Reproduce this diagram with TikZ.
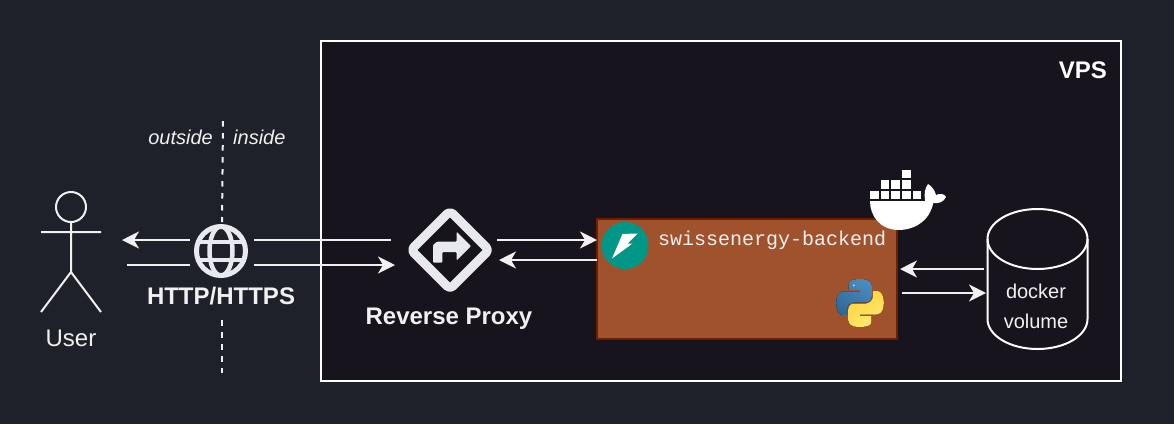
\documentclass[tikz,border=0pt]{standalone}
\usepackage{fontspec}
\setmainfont{Liberation Sans}
\setmonofont{Liberation Mono}
\usetikzlibrary{arrows.meta,calc}
\definecolor{bgc}{HTML}{1E2129}
\definecolor{vpsc}{HTML}{18141D}
\definecolor{boxc}{HTML}{A0522D}
\definecolor{boxb}{HTML}{6D1F00}
\definecolor{inkc}{HTML}{F0F0F0}
\definecolor{iconc}{HTML}{E8E9EE}
\definecolor{apic}{HTML}{009688}
\definecolor{pyb}{HTML}{4A8BBE}
\definecolor{pybb}{HTML}{306998}
\definecolor{pyy}{HTML}{FFE873}
\definecolor{pyyb}{HTML}{FFD43B}
\newcommand{\pysnake}{(54.9,0) .. controls (50.3,0) and (45.9,0.4) .. (42.1,1.1) .. controls (30.8,3.1) and (28.8,7.3) .. (28.8,15) -- (28.8,25.1) -- (55.4,25.1) -- (55.4,28.5) -- (18.8,28.5) .. controls (11.1,28.5) and (4.3,33.2) .. (2.2,42) .. controls (-0.2,52.1) and (-0.3,58.4) .. (2.2,68.9) .. controls (4.1,76.8) and (8.6,82.4) .. (16.3,82.4) -- (25.5,82.4) -- (25.5,70.3) .. controls (25.5,61.5) and (33.1,53.7) .. (42.1,53.7) -- (68.7,53.7) .. controls (76.1,53.7) and (82,47.6) .. (82,40.2) -- (82,15) .. controls (82,7.8) and (75.9,2.4) .. (68.7,1.2) .. controls (64.1,0.4) and (59.4,0.1) .. (54.9,0) -- cycle}
\tikzset{
  x=1pt,y=-1pt,
  conn/.style={draw=inkc,line width=2pt},
  arr/.style={conn,-{Stealth[length=17pt,width=17pt,inset=5pt]}},
  lbl/.style={text=inkc,inner sep=0pt,anchor=center},
  stick/.style={draw=inkc,line width=2pt},
  sep/.style={draw=inkc,line width=2pt,dash pattern=on 5.5pt off 6.5pt},
  icon/.style={draw=iconc,line width=5pt,fill=none},
  crate/.style={fill=white,minimum width=8.6pt,minimum height=8.6pt,inner sep=0pt,anchor=north west},
}
\begin{document}
\begin{tikzpicture}
\useasboundingbox (0,0) rectangle (1174,424);
\fill[bgc] (0,0) rectangle (1174,424);
% VPS
\node[draw=white,fill=vpsc,line width=2pt,outer sep=0pt,minimum width=800pt,minimum height=340pt,inner sep=0pt,anchor=north west] (vps) at (321,41) {};
\node[lbl,text=white,font=\bfseries\fontsize{24}{28}\selectfont,anchor=east] (vpst) at (1107,70) {VPS};
% separator
\coordinate (s1) at (223,121); \coordinate (s2) at (222,222);
\coordinate (s3) at (221.5,320); \coordinate (s4) at (221.5,373);
\draw[sep] (s1) -- (s2);
\draw[sep] (s3) -- (s4);
\node[lbl,font=\itshape\fontsize{20}{24}\selectfont,anchor=east] (outl) at (213,137) {outside};
\node[lbl,font=\itshape\fontsize{20}{24}\selectfont,anchor=west] (inl) at (233,137) {inside};
% user
\node[draw=inkc,line width=2pt,circle,outer sep=0pt,minimum size=30pt,inner sep=0pt] (head) at (71,207) {};
\coordinate (hip) at (71,272);
\coordinate (al) at (41,232); \coordinate (ar) at (101,232);
\coordinate (ll) at (41,312); \coordinate (lr) at (101,312);
\draw[stick] (head.south) -- (hip) (al) -- (ar) (ll) -- (hip) -- (lr);
\node[lbl,font=\fontsize{24}{28}\selectfont] (usert) at (71,338) {User};
% globe
\node[circle,minimum size=49pt,inner sep=0pt] (globe) at (221,251) {};
\begin{scope}[shift={(globe.center)}]
  \draw[icon] (0,0) circle [radius=24.5pt];
  \draw[icon,line width=4.5pt] (0,0) ellipse [x radius=11.5pt,y radius=24.5pt];
  \draw[iconc,line width=4.5pt] (-24,-9) -- (24,-9) (-24,9) -- (24,9);
\end{scope}
\node[lbl,font=\bfseries\fontsize{24}{28}\selectfont] (httpt) at (221,296) {HTTP/HTTPS};
% connectors left
\coordinate (a1s) at (190,240); \coordinate (a1e) at (122,240);
\coordinate (a2s) at (127,265); \coordinate (a2e) at (190,265);
\coordinate (a3s) at (254,240); \coordinate (a3e) at (391,240);
\coordinate (a4s) at (254,265); \coordinate (a4e) at (395,265);
\draw[arr] (a1s) -- (a1e);
\draw[conn] (a2s) -- (a2e);
\draw[conn] (a3s) -- (a3e);
\draw[arr] (a4s) -- (a4e);
% reverse proxy
\node[minimum size=80pt,inner sep=0pt] (proxy) at (450,250) {};
\draw[draw=iconc,line width=9pt,rounded corners=4pt,line join=round] (450,211) -- (489,250) -- (450,289) -- (411,250) -- cycle;
\fill[iconc,rounded corners=1pt] (433,262.5) -- (442.3,262.5) -- (442.3,252) -- (456.7,252) -- (456.7,260.5) -- (471,246) -- (456.7,231.7) -- (456.7,241.7) -- (437,241.7) -- (433,245) -- cycle;
\node[lbl,font=\bfseries\fontsize{24}{28}\selectfont] (proxyt) at (449,318.5) {Reverse Proxy};
% backend box
\node[draw=boxb,fill=boxc,line width=2pt,outer sep=0pt,minimum width=300pt,minimum height=120pt,inner sep=0pt,anchor=north west] (box) at (597,219) {};
\node[circle,fill=apic,minimum size=47pt,inner sep=0pt] (api) at (625,245.5) {};
\fill[white] (622.5,234) -- (637.5,233.5) -- (627.5,243.5) -- (632.5,243.5) -- (612,258.5) -- cycle;
\node[lbl,text=inkc,font=\ttfamily\fontsize{20}{24}\selectfont,anchor=west] (boxt) at (658,240) {swissenergy-backend};
% python logo
\begin{scope}[shift={(836,279)},scale=0.436]
  \fill[top color=pyb,bottom color=pybb,shading angle=-30] \pysnake;
  \fill[white!75!pyb] (41,14.5) ellipse [x radius=2.3pt,y radius=2.3pt];
  \begin{scope}[shift={(110,110)},scale=-1]
    \fill[top color=pyyb,bottom color=pyy,shading angle=30] \pysnake;
    \fill[white!60!pyyb] (41,14.5) ellipse [x radius=2.3pt,y radius=2.3pt];
  \end{scope}
\end{scope}
% docker
\foreach \cx/\cy in {870/190.5,880.6/190.5,891.2/190.5,901.8/190.5,912.4/190.5,880.6/180,891.2/180,901.8/180,901.8/169.5}
  \node[crate] at (\cx,\cy) {};
\fill[white] (870,201) -- (930,201) .. controls (935,201) and (933,205) .. (931,210) .. controls (926,223) and (912,230) .. (899,230) .. controls (880,230) and (870,216) .. (870,201) -- cycle;
\fill[white] (928,184) .. controls (934,188) and (935,192) .. (936,195) .. controls (940,193) and (945,194) .. (946,197) .. controls (944,202) and (938,204) .. (933,203) .. controls (928,204) and (925,203) .. (925,200) .. controls (924,193) and (925,188) .. (928,184) -- cycle;
% box connectors
\coordinate (b1s) at (497,240); \coordinate (b1e) at (597,240);
\coordinate (b2s) at (597,260); \coordinate (b2e) at (499,260);
\coordinate (c1s) at (984,269); \coordinate (c1e) at (900,269);
\coordinate (c2s) at (902,293); \coordinate (c2e) at (986,293);
\draw[arr] (b1s) -- (b1e);
\draw[arr] (b2s) -- (b2e);
\draw[arr] (c1s) -- (c1e);
\draw[arr] (c2s) -- (c2e);
% cylinder
\draw[white,line width=2pt] (987.5,239) -- (987.5,319) arc [start angle=180,end angle=360,x radius=50pt,y radius=30pt] -- (1087.5,239);
\draw[white,line width=2pt] (1037.5,239) ellipse [x radius=50pt,y radius=30pt];
\node[lbl,font=\fontsize{20}{24}\selectfont] (vol1) at (1036,291) {docker};
\node[lbl,font=\fontsize{20}{24}\selectfont] (vol2) at (1036,321) {volume};
\end{tikzpicture}
\end{document}
